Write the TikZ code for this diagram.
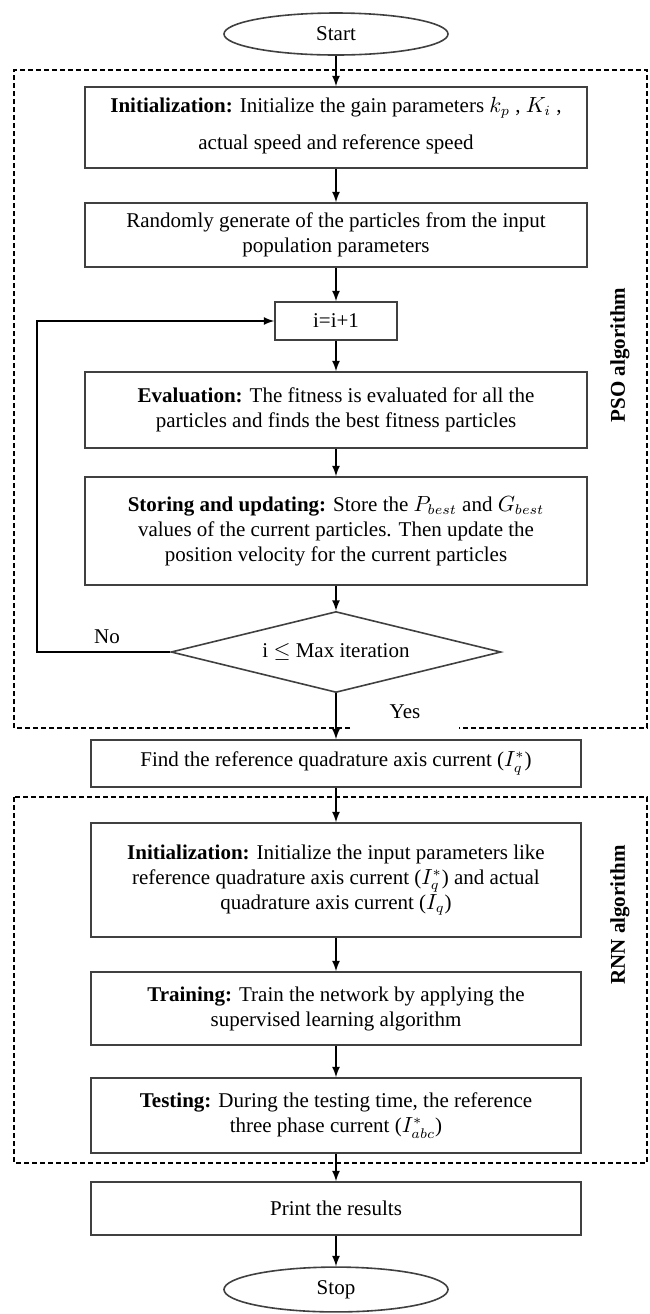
\documentclass[tikz,border=0pt]{standalone}
\usepackage{fontspec}
\setmainfont{Liberation Serif}
\usetikzlibrary{shapes.geometric}
\begin{document}
\begin{tikzpicture}[x=0.5pt, y=-0.5pt, font=\fontsize{10.5}{12.5}\selectfont,
    block/.style={rectangle, draw=black!75, thick, minimum width=251pt, align=center, inner sep=2pt},
    wideblock/.style={block, minimum width=245pt},
    terminal/.style={ellipse, draw=black!75, thick, minimum width=112pt, minimum height=21pt},
    decision/.style={diamond, draw=black!75, thick, aspect=4, inner sep=0pt, minimum width=165pt, minimum height=40.5pt},
    flow/.style={-latex, thick},
    group/.style={thick, dash pattern=on 2.5pt off 1.5pt},
    grouplabel/.style={rotate=90, font=\bfseries\fontsize{10.5}{12.5}\selectfont}]
	\useasboundingbox (0,0) rectangle (649,1314);
	\node[terminal] (start) at (336, 34) {Start};
	\node[block, minimum height=40.5pt, text depth=4pt] (init) at (336, 127.5) {\textbf{Initialization:} Initialize the gain parameters $k_p$ , $K_i$ ,\\[6pt] actual speed and reference speed};
	\node[block, minimum height=32pt] (rand) at (336, 235) {Randomly generate of the particles from the input\\ population parameters};
	\node[rectangle, draw=black!75, thick, minimum width=61pt, minimum height=19pt] (inc) at (336, 321) {i=i+1};
	\node[block, minimum height=38pt] (eval) at (336, 410) {\textbf{Evaluation:} The fitness is evaluated for all the\\ particles and finds the best fitness particles};
	\node[block, minimum height=54pt] (store) at (336, 531) {\textbf{Storing and updating:} Store the $P_{best}$ and $G_{best}$\\ values of the current particles. Then update the\\ position velocity for the current particles};
	\node[decision] (cond) at (336, 652) {i $\leq$ Max iteration};
	\node[wideblock, minimum height=23.5pt] (find) at (336, 763.5) {Find the reference quadrature axis current ($I_q^*$)};
	\node[wideblock, minimum height=57pt] (rinit) at (336, 880) {\textbf{Initialization:} Initialize the input parameters like\\ reference quadrature axis current ($I_q^*$) and actual\\ quadrature axis current ($I_q$)};
	\node[wideblock, minimum height=36.5pt] (train) at (336, 1008.5) {\textbf{Training:} Train the network by applying the\\ supervised learning algorithm};
	\node[wideblock, minimum height=37.5pt] (test) at (336, 1115.5) {\textbf{Testing:} During the testing time, the reference\\ three phase current ($I_{abc}^*$)};
	\node[wideblock, minimum height=26.5pt] (print) at (336, 1208.5) {Print the results};
	\node[terminal] (stop) at (336, 1289.5) {Stop};
	\coordinate (back) at (37, 652);
	\draw[flow] (start) -- (init);
	\draw[flow] (init) -- (rand);
	\draw[flow] (rand) -- (inc);
	\draw[flow] (inc) -- (eval);
	\draw[flow] (eval) -- (store);
	\draw[flow] (store) -- (cond);
	\draw[flow] (cond) -- (find);
	\draw[flow] (cond.west) -- (back) |- (inc.west);
	\draw[flow] (find) -- (rinit);
	\draw[flow] (rinit) -- (train);
	\draw[flow] (train) -- (test);
	\draw[flow] (test) -- (print);
	\draw[flow] (print) -- (stop);
	\node[inner sep=0pt] (no) at (107, 637) {No};
	\node[inner sep=0pt] (yes) at (405, 712) {Yes};
	\draw[group] (350, 728) -| (14, 70) -- (647, 70) -- (647, 728) -- (459, 728);
	\draw[group] (14, 797) rectangle (647, 1163);
	\node[grouplabel] (pso) at (620, 355) {PSO algorithm};
	\node[grouplabel] (rnn) at (620, 915) {RNN algorithm};
\end{tikzpicture}
\end{document}
